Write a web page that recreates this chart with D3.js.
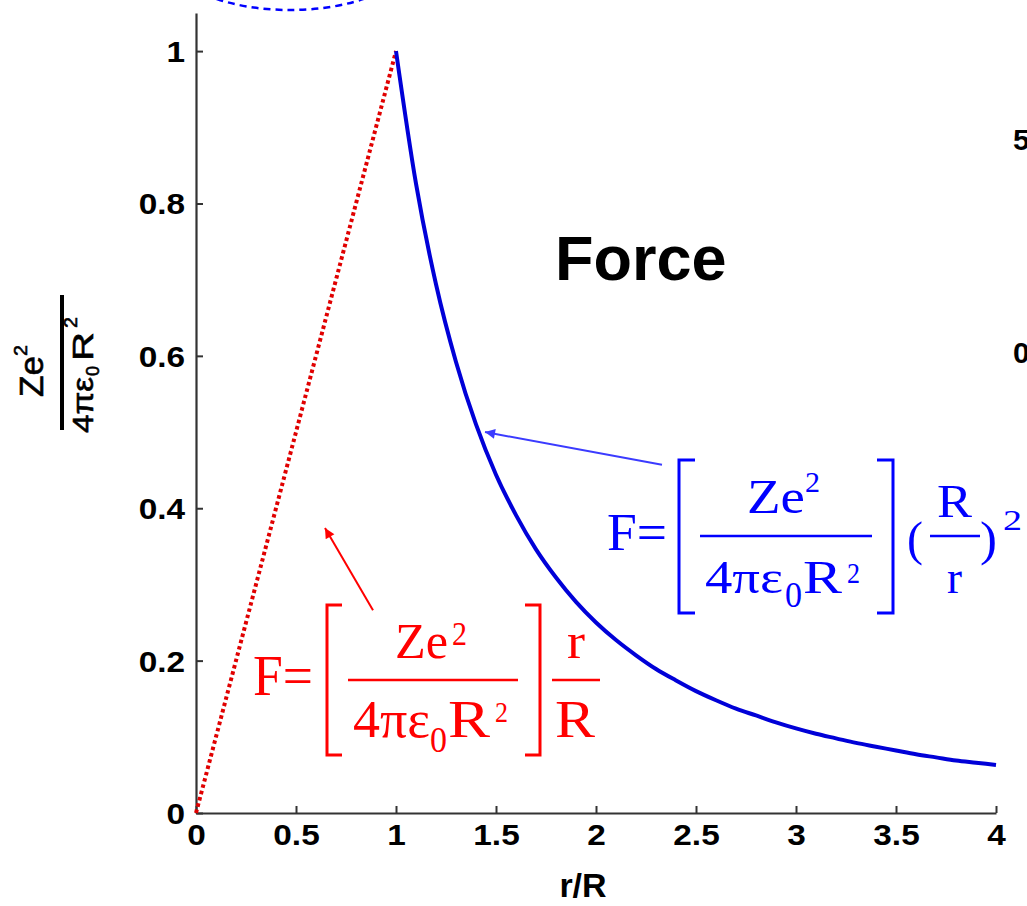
<!DOCTYPE html>
<html>
<head>
<meta charset="utf-8">
<script src="https://cdn.jsdelivr.net/npm/d3@7"></script>
<style>
  body { margin: 0; background: #fff; }
  svg { display: block; }
  .tick text { font-family: "Liberation Sans", Arial, sans-serif; font-weight: bold; font-size: 29px; fill: #000; }
</style>
</head>
<body>
<div id="chart"></div>
<script>
// r/R inside the nucleus (red dotted) and outside (blue solid)
var rInside = [0, 0.05, 0.1, 0.2, 0.3, 0.4, 0.5, 0.6, 0.7, 0.8, 0.9, 1.0];
var fInside = [0, 0.05, 0.1, 0.2, 0.3, 0.4, 0.5, 0.6, 0.7, 0.8, 0.9, 1.0];
var rOutside = [1.0, 1.1, 1.2, 1.3, 1.4, 1.5, 1.6, 1.7, 1.8, 1.9, 2.0, 2.1, 2.2, 2.3, 2.4, 2.5,
                2.6, 2.7, 2.8, 2.9, 3.0, 3.1, 3.2, 3.3, 3.4, 3.5, 3.6, 3.7, 3.8, 3.9, 4.0];
var fOutside = [1.0, 0.826, 0.694, 0.592, 0.510, 0.444, 0.391, 0.346, 0.309, 0.277, 0.250, 0.227,
                0.207, 0.189, 0.174, 0.160, 0.148, 0.137, 0.128, 0.119, 0.111, 0.104, 0.098,
                0.092, 0.087, 0.082, 0.077, 0.073, 0.069, 0.066, 0.063];
var xTicks = [0, 0.5, 1, 1.5, 2, 2.5, 3, 3.5, 4];
var yTicks = [0, 0.2, 0.4, 0.6, 0.8, 1];

var W = 1027, H = 906;
var margin = { top: 13, left: 196 },
    width = 800,
    height = 800;

var svg = d3.select("#chart").append("svg")
    .attr("width", W)
    .attr("height", H);

var x = d3.scaleLinear().domain([0, 4]).range([margin.left, margin.left + width]);
var y = d3.scaleLinear().domain([0, 1.05]).range([margin.top + height, margin.top]);

var defs = svg.append("defs");
function arrowHead(id, color) {
  defs.append("marker")
      .attr("id", id)
      .attr("viewBox", "0 0 10 10")
      .attr("refX", 10).attr("refY", 5)
      .attr("markerWidth", 11).attr("markerHeight", 10)
      .attr("markerUnits", "userSpaceOnUse")
      .attr("orient", "auto")
    .append("path")
      .attr("d", "M0,0L10,5L0,10z")
      .attr("fill", color);
}
arrowHead("headRed", "#ff0000");
arrowHead("headBlue", "#3b3bff");

// bit of the neighbouring figure peeking in at the top
svg.append("ellipse")
    .attr("cx", 290).attr("cy", -40)
    .attr("rx", 117).attr("ry", 50)
    .attr("fill", "none")
    .attr("stroke", "#0000ff")
    .attr("stroke-width", 2.5)
    .attr("stroke-dasharray", "7,5");

// axes, inward ticks, no box
var yAxis = svg.append("g")
    .attr("transform", "translate(" + margin.left + ",0)")
    .call(d3.axisLeft(y).tickValues(yTicks).tickSizeInner(-7).tickSizeOuter(0).tickPadding(11)
      .tickFormat(d3.format("~g")));
var xAxis = svg.append("g")
    .attr("transform", "translate(0," + (margin.top + height) + ")")
    .call(d3.axisBottom(x).tickValues(xTicks).tickSizeInner(-7).tickSizeOuter(0).tickPadding(11)
      .tickFormat(d3.format("~g")));
[xAxis, yAxis].forEach(function(a) {
  a.select(".domain").attr("stroke", "#333").attr("stroke-width", 2.2);
  a.selectAll(".tick line").attr("stroke", "#333").attr("stroke-width", 2);
  // the original labels are a bit wider than Liberation Sans
  a.selectAll(".tick text").each(function() {
    var len = this.getComputedTextLength();
    d3.select(this).attr("textLength", len * 1.15).attr("lengthAdjust", "spacingAndGlyphs");
  });
});
yAxis.selectAll(".tick text").attr("dy", "0.36em");
xAxis.selectAll(".tick text").attr("dy", "0.72em");

// curves
var line = d3.line()
    .x(function(d) { return x(d[0]); })
    .y(function(d) { return y(d[1]); })
    .curve(d3.curveMonotoneX);

svg.append("path")
    .datum(d3.zip(rInside, fInside))
    .attr("d", line)
    .attr("fill", "none")
    .attr("stroke", "#e00000")
    .attr("stroke-width", 4)
    .attr("stroke-dasharray", "3.5,3");

svg.append("path")
    .datum(d3.zip(rOutside, fOutside))
    .attr("d", line)
    .attr("fill", "none")
    .attr("stroke", "#0000d8")
    .attr("stroke-width", 4);

// labels
svg.append("text")
    .attr("x", 583).attr("y", 897)
    .attr("text-anchor", "middle")
    .style("font-family", "'Liberation Sans', Arial, sans-serif")
    .style("font-weight", "bold")
    .style("font-size", "34px")
    .text("r/R");

svg.append("text")
    .attr("x", 555).attr("y", 280)
    .style("font-family", "'Liberation Sans', Arial, sans-serif")
    .style("font-weight", "bold")
    .style("font-size", "63px")
    .text("Force");

// cut-off tick labels of the next panel (cut in the original too)
[["5", 150], ["0", 363]].forEach(function(p) {
  svg.append("text")
      .attr("x", 1013).attr("y", p[1])
      .style("font-family", "'Liberation Sans', Arial, sans-serif")
      .style("font-weight", "bold")
      .style("font-size", "30px")
      .text(p[0]);
});

// y label: Ze^2 / (4 pi eps0 R^2), rotated
var yl = svg.append("g").attr("transform", "translate(62,362) rotate(-90)");
yl.append("line").attr("x1", -68).attr("x2", 67).attr("y1", 0).attr("y2", 0)
    .attr("stroke", "#000").attr("stroke-width", 4);
function ylText(t, u, v, size, w) {
  yl.append("text")
      .attr("x", u).attr("y", v)
      .attr("textLength", w).attr("lengthAdjust", "spacingAndGlyphs")
      .style("font-family", "'Liberation Sans', Arial, sans-serif")
      .style("font-size", size + "px")
      .style("stroke", "#000").style("stroke-width", 0.6)
      .text(t);
}
ylText("Ze", -35, -19, 33, 41);
ylText("2", 6, -35, 18, 11);
ylText("4πε", -71, 31, 30, 56);
ylText("0", -14, 37, 18, 10);
ylText("R", 1, 31, 30, 29);
ylText("2", 34, 15, 18, 11);

// formula annotations
function formula(color, pieces, lines, brackets) {
  var g = svg.append("g");
  pieces.forEach(function(p) {
    g.append("text")
        .attr("x", p[1]).attr("y", p[2])
        .attr("textLength", p[4]).attr("lengthAdjust", "spacingAndGlyphs")
        .attr("fill", color)
        .style("font-family", "'Liberation Serif', 'Times New Roman', serif")
        .style("font-size", p[3] + "px")
        .text(p[0]);
  });
  lines.forEach(function(l) {
    g.append("line").attr("x1", l[0]).attr("x2", l[1]).attr("y1", l[2]).attr("y2", l[2])
        .attr("stroke", color).attr("stroke-width", 2.6);
  });
  brackets.forEach(function(b) {
    g.append("path")
        .attr("d", "M" + b[1] + "," + b[2] + "H" + b[0] + "V" + b[3] + "H" + b[1])
        .attr("fill", "none").attr("stroke", color).attr("stroke-width", 3);
  });
}

formula("#ff0000",
  [["F=", 253, 695, 56, 60],
   ["Ze", 395, 658, 50, 53],
   ["2", 452, 645, 33, 15],
   ["4πε", 353, 737, 52, 77],
   ["0", 430, 752, 35, 17],
   ["R", 448, 737, 52, 42],
   ["2", 495, 722, 30, 13],
   ["r", 567, 658, 50, 18],
   ["R", 555, 737, 52, 40]],
  [[348, 518, 680], [552, 600, 680]],
  [[327, 342, 605, 755], [540, 525, 605, 755]]);

formula("#0000ff",
  [["F=", 607, 550, 53, 60],
   ["Ze", 747, 513, 48, 58],
   ["2", 805, 492, 30, 15],
   ["4πε", 705, 593, 46, 78],
   ["0", 785, 607, 35, 17],
   ["R", 803, 593, 46, 39],
   ["2", 847, 583, 29, 13],
   ["(", 907, 555, 48, 16],
   ["R", 937, 517, 46, 35],
   ["r", 947, 593, 46, 15],
   [")", 980, 555, 48, 17],
   ["2", 1003, 530, 30, 19]],
  [[700, 872, 536], [930, 980, 536]],
  [[679, 695, 460, 613], [893, 877, 460, 613]]);

// arrows pointing at the curves
svg.append("line")
    .attr("x1", x(0.885)).attr("y1", y(0.266))
    .attr("x2", x(0.645)).attr("y2", y(0.374))
    .attr("stroke", "#ff0000").attr("stroke-width", 2)
    .attr("marker-end", "url(#headRed)");
svg.append("line")
    .attr("x1", x(2.33)).attr("y1", y(0.457))
    .attr("x2", x(1.445)).attr("y2", y(0.5))
    .attr("stroke", "#3b3bff").attr("stroke-width", 2)
    .attr("marker-end", "url(#headBlue)");
</script>
</body>
</html>
